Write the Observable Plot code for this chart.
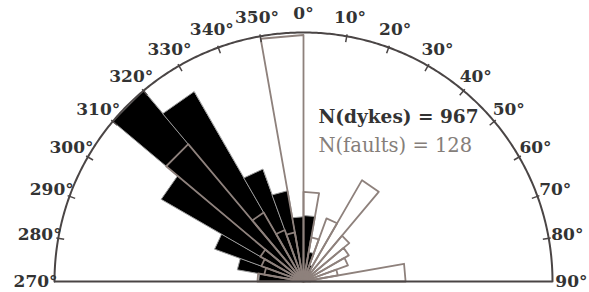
<!DOCTYPE html>
<html><head><meta charset="utf-8">
<script src="https://cdn.jsdelivr.net/npm/d3@7"></script>
<script src="https://cdn.jsdelivr.net/npm/@observablehq/plot@0.6"></script>
<style>body{margin:0;background:#fff}</style>
</head><body><div id="chart"></div>
<script>
// Bin start bearings (degrees clockwise from north), 10° bins
const binStarts = [270,280,290,300,310,320,330,340,350,0,10,20,30,40,50,60,70,80];
// Petal lengths as % of the outer circle radius
const dykeLengths  = [18,27,38,66,100,88,48,37,26, 26.5,12,7,5,4,3,3,3,3];
const faultLengths = [18.5,16,18,20,72,32,22,20,99, 36,18,27,47,24,21,19,14,41];
const tickBearings = [280,290,300,310,320,330,340,350,10,20,30,40,50,60,70,80];
const labelBearings = [270,280,290,300,310,320,330,340,350,0,10,20,30,40,50,60,70,80,90];
const labelTexts = ["270°","280°","290°","300°","310°","320°","330°","340°","350°","0°","10°","20°","30°","40°","50°","60°","70°","80°","90°"];
const countLabels = ["N(dykes) = 967","N(faults) = 128"];

const rad = d => d*Math.PI/180;
const px = (b,r) => r*Math.sin(rad(b));
const py = (b,r) => r*Math.cos(rad(b));

function petals(lengths, name){
  const rows=[];
  binStarts.forEach((b,i)=>{
    const r=lengths[i];
    rows.push({id:name+i,x:0,y:0});
    rows.push({id:name+i,x:px(b,r),y:py(b,r)});
    rows.push({id:name+i,x:px(b+10,r),y:py(b+10,r)});
  });
  return rows;
}
const arc = d3.range(270,450.01,0.5).map(b=>({x:px(b,100),y:py(b,100)}));
const font = "DejaVu Serif";

const chart = Plot.plot({
  width:589, height:292, margin:0,
  x:{domain:[-100,100], range:[54,552], axis:null},
  y:{domain:[0,100], range:[281,32], axis:null},
  marks:[
    Plot.line(petals(dykeLengths,"d"),{x:"x",y:"y",z:"id",fill:"#000",stroke:"#9a9a9a",strokeWidth:1,curve:"linear-closed"}),
    Plot.line(petals(faultLengths,"f"),{x:"x",y:"y",z:"id",fill:"none",stroke:"#8e817c",strokeWidth:1.8,curve:"linear-closed"}),
    Plot.line(arc,{x:"x",y:"y",stroke:"#4a4545",strokeWidth:2}),
    Plot.ruleY([0],{x1:-100,x2:100,stroke:"#4a4545",strokeWidth:2}),
    Plot.link(tickBearings,{x1:b=>px(b,97.6),y1:b=>py(b,97.6),x2:b=>px(b,100.8),y2:b=>py(b,100.8),stroke:"#4a4545",strokeWidth:1.5}),
    Plot.text(labelBearings,{x:b=>px(b,107.6),y:b=>py(b,107.6),text:(d,i)=>labelTexts[i],fontSize:17,fontWeight:"bold",fontFamily:font,fill:"#333"}),
    Plot.text([countLabels[0]],{x:6,y:66.2,text:d=>d,textAnchor:"start",fontSize:18.5,fontWeight:"bold",fontFamily:font,fill:"#333"}),
    Plot.text([countLabels[1]],{x:6,y:54.4,text:d=>d,textAnchor:"start",fontSize:19.5,fontFamily:font,fill:"#857e7a"})
  ]
});
document.getElementById("chart").appendChild(chart);
</script>
</body></html>
